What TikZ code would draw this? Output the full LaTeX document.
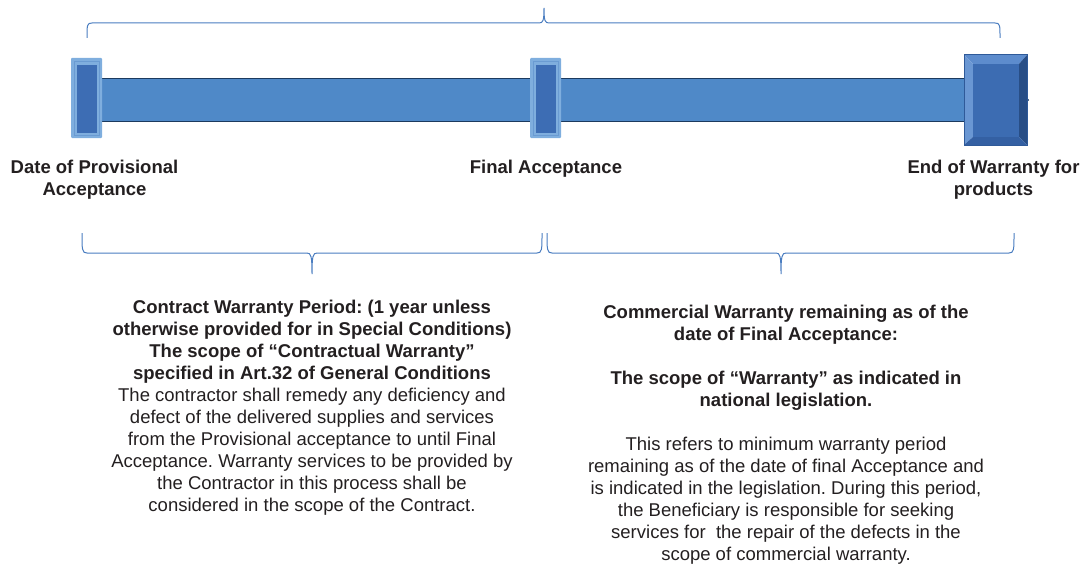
\documentclass[tikz,border=0pt]{standalone}
\usepackage{fontspec}
\setmainfont{Liberation Sans}
\frenchspacing
\definecolor{barblue}{HTML}{4F89C8}
\definecolor{bardark}{HTML}{1C3A5E}
\definecolor{mklight}{HTML}{7FAEDE}
\definecolor{mkline}{HTML}{6A9BD2}
\definecolor{mkdark}{HTML}{3D6DB4}
\definecolor{endtop}{HTML}{5D8CCD}
\definecolor{endleft}{HTML}{6A97D3}
\definecolor{endright}{HTML}{284E86}
\definecolor{endbottom}{HTML}{3460A3}
\definecolor{endface}{HTML}{3C6CB2}
\definecolor{endrim}{HTML}{2F5A99}
\definecolor{bracecol}{HTML}{4A7DC0}
\definecolor{txt}{HTML}{231F20}
\begin{document}
\begin{tikzpicture}[x=1pt, y=-1pt,
  wbrace/.style={draw=bracecol, line width=1pt},
  lbl/.style={font=\fontsize{18.5}{22}\selectfont\bfseries, text=txt, align=center, inner sep=0pt},
  body/.style={font=\fontsize{18.5}{22}\selectfont, text=txt, align=center, inner sep=0pt}]
\useasboundingbox (0,0) rectangle (1086,567);
% time bar
\fill[barblue](102,79) rectangle (1027,122);
\draw[bardark, line width=1pt](102,79)--(964,79); \draw[bardark, line width=1pt](102,122)--(964,122);
\fill[bardark](1028,100) circle (1pt);
% milestones
\fill[mklight, rounded corners=1pt](71,58) rectangle (102,138);
\draw[mkline, line width=.8pt](74,61) rectangle (99,135);
\fill[mkdark](77,65) rectangle (97,133);
\fill[mklight, rounded corners=1pt](530,58) rectangle (561,138);
\draw[mkline, line width=.8pt](533,61) rectangle (558,135);
\fill[mkdark](536,65) rectangle (556,133);
\fill[endtop](964,55)--(1027,55)--(1019,64)--(973,64)--cycle;
\fill[endleft](964,55)--(973,64)--(973,137)--(964,145)--cycle;
\fill[endright](1027,55)--(1027,145)--(1019,137)--(1019,64)--cycle;
\fill[endbottom](964,145)--(1027,145)--(1019,137)--(973,137)--cycle;
\fill[endface](973,64) rectangle (1019,137);
\draw[endrim, line width=1pt](964,55) rectangle (1027,145);
% braces
\draw[wbrace](87,38) .. controls (87,25) and (87,23) .. (92,23)--(539,23) .. controls (543,23) and (544,21) .. (544,8)
  .. controls (544,21) and (545,23) .. (549,23)--(995,23) .. controls (1000,23) and (1000,25) .. (1000,38);
\draw[wbrace](82,233) .. controls (82,250) and (82,253) .. (87,253)--(307,253) .. controls (311,253) and (312,256) .. (312,274)
  .. controls (312,256) and (313,253) .. (317,253)--(537,253) .. controls (542,253) and (542,250) .. (542,233);
\draw[wbrace](547,233) .. controls (547,250) and (547,253) .. (552,253)--(776,253) .. controls (780,253) and (781,256) .. (781,274)
  .. controls (781,256) and (782,253) .. (786,253)--(1009,253) .. controls (1014,253) and (1014,250) .. (1014,233);
% labels
\node[lbl, anchor=north](prov) at (94.5,159.5) {Date of Provisional\\Acceptance};
\node[lbl, anchor=base](final) at (546,173) {Final Acceptance};
\node[lbl, anchor=north](endw) at (993.5,159.5) {End of Warranty for\\products};
\node[body, anchor=north](contract) at (312,299.5) {\bfseries Contract Warranty Period: (1 year unless\\
  \bfseries otherwise provided for in Special Conditions)\\
  \bfseries The scope of “Contractual Warranty”\\
  \bfseries specified in Art.32 of General Conditions\\
  The contractor shall remedy any deficiency and\\
  defect of the delivered supplies and services\\
  from the Provisional acceptance to until Final\\
  Acceptance. Warranty services to be provided by\\
  the Contractor in this process shall be\\
  considered in the scope of the Contract.};
\node[body, anchor=north](commercial) at (786,305) {\bfseries Commercial Warranty remaining as of the\\
  \bfseries date of Final Acceptance:\\[22pt]
  \bfseries The scope of “Warranty” as indicated in\\
  \bfseries national legislation.\\[22pt]
  This refers to minimum warranty period\\
  remaining as of the date of final Acceptance and\\
  is indicated in the legislation. During this period,\\
  the Beneficiary is responsible for seeking\\
  services for\ \ the repair of the defects in the\\
  scope of commercial warranty.};
\end{tikzpicture}
\end{document}
